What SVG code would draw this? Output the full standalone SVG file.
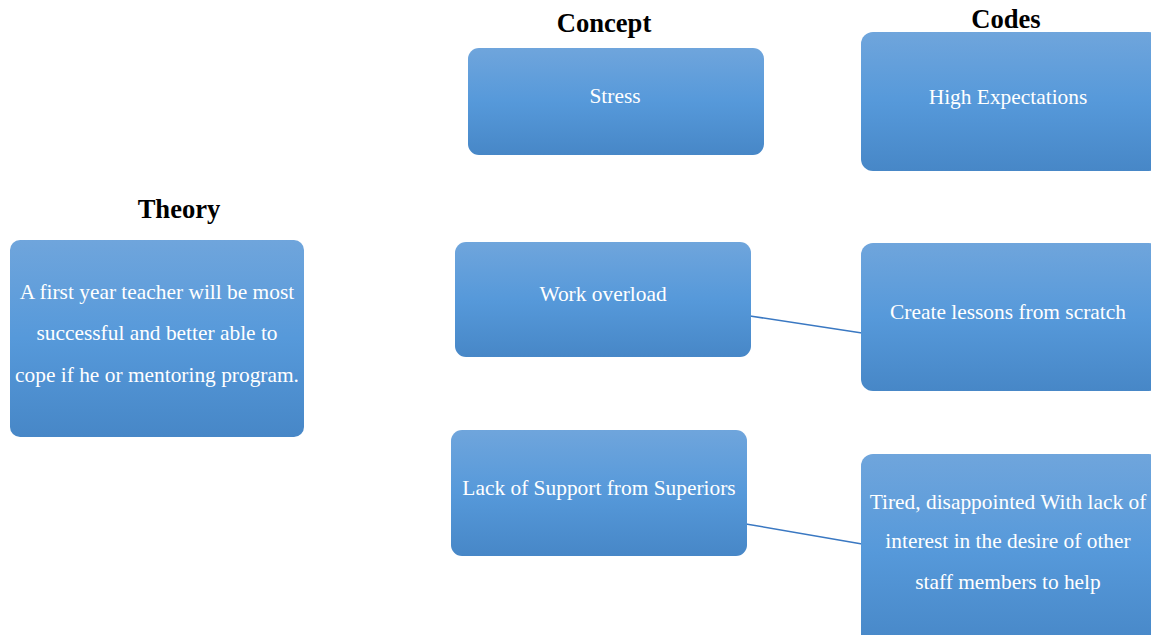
<svg xmlns="http://www.w3.org/2000/svg" width="1151" height="635" viewBox="0 0 1151 635">
<defs>
<linearGradient id="g" x1="0" y1="0" x2="0" y2="1">
<stop offset="0" stop-color="#6fa5dc"/>
<stop offset="0.5" stop-color="#5699da"/>
<stop offset="1" stop-color="#4787c7"/>
</linearGradient>
<style>
.box{fill:url(#g);}
.t{font-family:"Liberation Serif","Times New Roman",serif;font-size:21.4px;fill:#ffffff;text-anchor:middle;}
.h{font-family:"Liberation Serif","Times New Roman",serif;font-size:26.6px;font-weight:bold;fill:#000000;text-anchor:middle;}
.c{stroke:#3a78c2;stroke-width:1.5;fill:none;}
</style>
</defs>
<rect width="1151" height="635" fill="#ffffff"/>
<g id="headers">
<text class="h" x="604" y="32">Concept</text>
<text class="h" x="1006" y="28">Codes</text>
<text class="h" x="179" y="218">Theory</text>
</g>
<g id="connectors">
<line class="c" x1="750" y1="316" x2="862" y2="333"/>
<line class="c" x1="746" y1="524" x2="862" y2="544"/>
</g>
<g id="theory">
<rect class="box" x="10" y="240" width="294" height="197" rx="10"/>
<text class="t" x="157" y="299">A first year teacher will be most</text>
<text class="t" x="157" y="340">successful and better able to</text>
<text class="t" x="157" y="382">cope if he or mentoring program.</text>
</g>
<g id="stress">
<rect class="box" x="468" y="48" width="296" height="107" rx="11"/>
<text class="t" x="615" y="103">Stress</text>
</g>
<g id="work-overload">
<rect class="box" x="455" y="242" width="296" height="115" rx="11"/>
<text class="t" x="603" y="301">Work overload</text>
</g>
<g id="lack-support">
<rect class="box" x="451" y="430" width="296" height="126" rx="11"/>
<text class="t" x="599" y="495">Lack of Support from Superiors</text>
</g>
<g id="high-expectations">
<rect class="box" x="861" y="32" width="300" height="139" rx="12"/>
<text class="t" x="1008" y="104">High Expectations</text>
</g>
<g id="create-lessons">
<rect class="box" x="861" y="243" width="300" height="148" rx="12"/>
<text class="t" x="1008" y="319">Create lessons from scratch</text>
</g>
<g id="tired">
<rect class="box" x="861" y="454" width="300" height="195" rx="12"/>
<text class="t" x="1008" y="509">Tired, disappointed With lack of</text>
<text class="t" x="1008" y="548">interest in the desire of other</text>
<text class="t" x="1008" y="589">staff members to help</text>
</g>
</svg>
